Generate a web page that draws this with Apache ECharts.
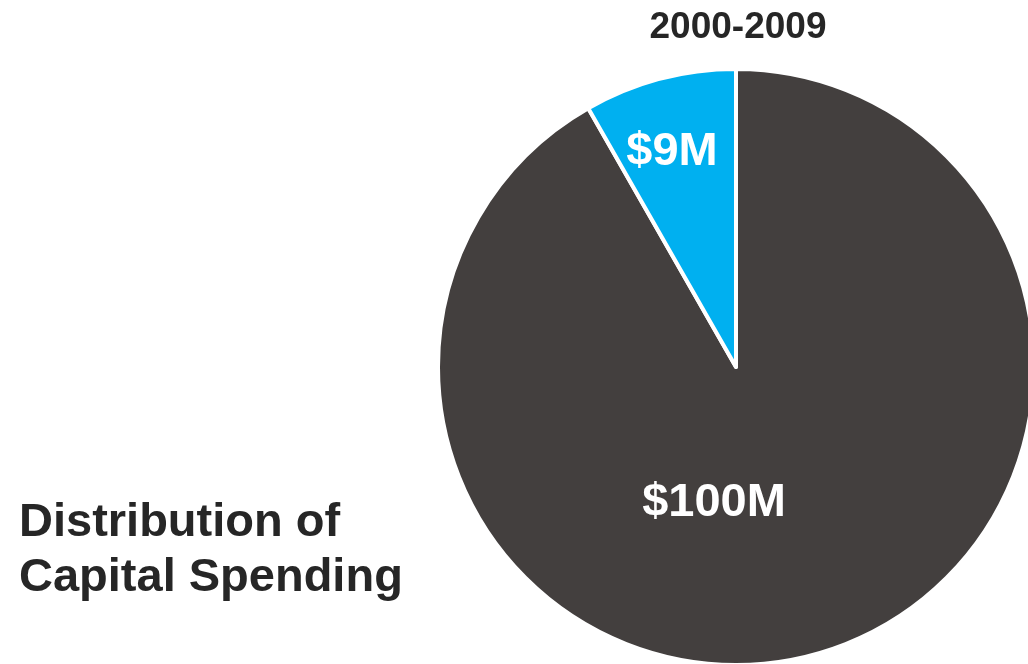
<!DOCTYPE html>
<html>
<head>
<meta charset="utf-8">
<script src="https://cdn.jsdelivr.net/npm/echarts@6/dist/echarts.min.js"></script>
<style>
html,body{margin:0;padding:0;background:#fff;}
#chart{width:1028px;height:664px;}
</style>
</head>
<body>
<div id="chart"></div>
<script>
var categories = ['Other', 'Capital Spending'];
var values = [100, 9];
var labels = ['$100M', '$9M'];
var colors = ['#433F3E', '#00B0F0'];
var periodLabel = '2000-2009';
var sideTitle = 'Distribution of\nCapital Spending';

var labelShift = [[-61, -11], [-25, -68]];
var FONT = '"Liberation Sans", Arial, sans-serif';

var chart = echarts.init(document.getElementById('chart'));
chart.setOption({
  animation: false,
  backgroundColor: '#ffffff',
  title: [
    {
      text: periodLabel,
      left: 733,
      top: 4,
      textAlign: 'center',
      textStyle: { fontFamily: FONT, fontSize: 37, fontWeight: 'bold', color: '#262626' }
    },
    {
      text: sideTitle,
      left: 14,
      top: 491,
      textStyle: { fontFamily: FONT, fontSize: 47, fontWeight: 'bold', color: '#262626', lineHeight: 55 }
    }
  ],
  series: [{
    type: 'pie',
    center: [736, 367],
    radius: [0, 298],
    startAngle: 90,
    clockwise: true,
    silent: true,
    itemStyle: { borderColor: '#ffffff', borderWidth: 4 },
    label: {
      show: true,
      position: 'inside',
      color: '#ffffff',
      fontFamily: FONT,
      fontSize: 47,
      fontWeight: 'bold',
      formatter: function (p) { return labels[p.dataIndex]; }
    },
    labelLine: { show: false },
    labelLayout: function (p) {
      return { dx: labelShift[p.dataIndex][0], dy: labelShift[p.dataIndex][1] };
    },
    data: categories.map(function (c, i) {
      return { name: c, value: values[i], itemStyle: { color: colors[i] } };
    })
  }]
});
</script>
</body>
</html>
